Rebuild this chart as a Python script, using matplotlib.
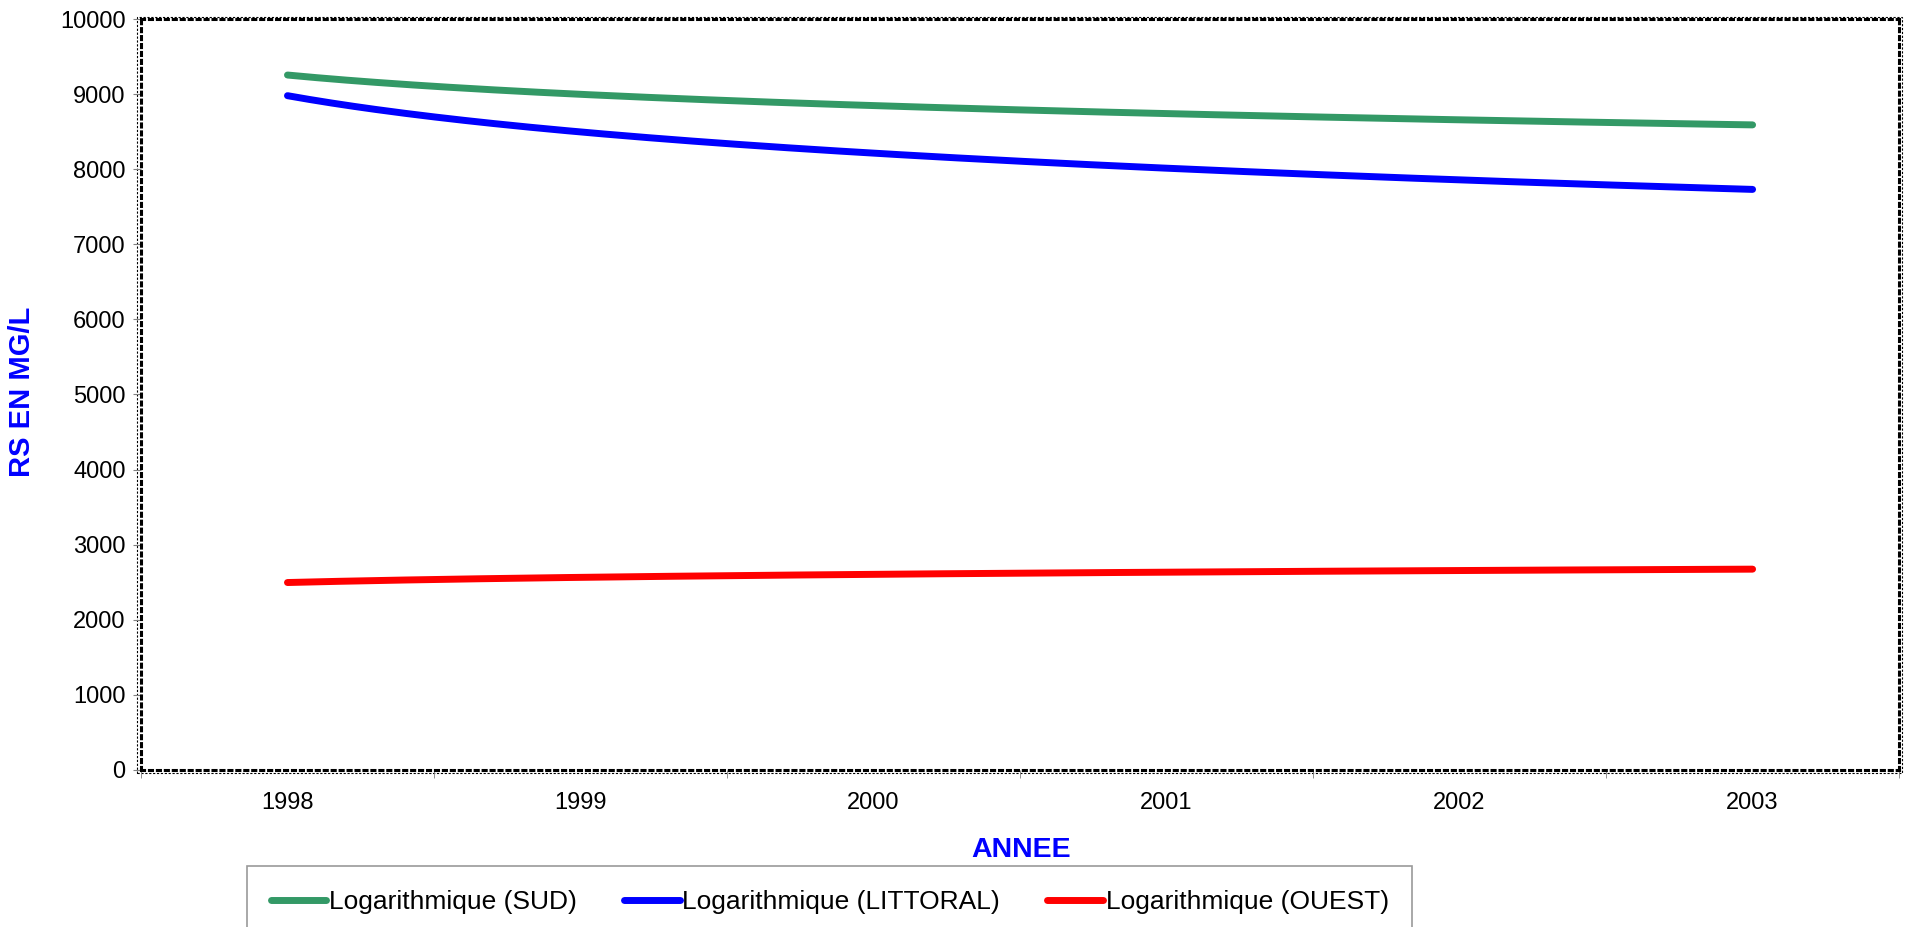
import numpy as np
import matplotlib.pyplot as plt
from matplotlib.patches import Rectangle

plt.rcParams['font.family'] = ['Liberation Sans', 'DejaVu Sans']

years = ['1998', '1999', '2000', '2001', '2002', '2003']
sud = [9254, 8997, 8847, 8740, 8658, 8590]
littoral = [8979, 8496, 8214, 8013, 7858, 7731]
ouest = [2496, 2565, 2605, 2634, 2656, 2674]

series = [
    ("Logarithmique (SUD)", sud, "#339966"),
    ("Logarithmique (LITTORAL)", littoral, "#0000FF"),
    ("Logarithmique (OUEST)", ouest, "#FF0000"),
]


def log_trend(values, n=200):
    """Logarithmic trendline through the points, like Excel draws it."""
    x = np.arange(1, len(values) + 1)
    a, b = np.polyfit(np.log(x), values, 1)
    xs = np.linspace(1, len(values), n)
    return xs - 1, a * np.log(xs) + b


def main():
    fig = plt.figure(figsize=(19.05, 9.27), dpi=100)
    ax = fig.add_axes([0.074, 0.1694, 0.9229, 0.8101])

    for label, values, color in series:
        xs, ys = log_trend(values)
        ax.plot(xs, ys, color=color, lw=5, solid_capstyle='round',
                label=label)

    ax.set_xlim(-0.5, len(years) - 0.5)
    ax.set_ylim(0, 10000)
    ax.set_yticks(np.arange(0, 10001, 1000))
    ax.set_xticks(np.arange(len(years)))
    ax.set_xticklabels(years)
    ax.set_xticks(np.arange(-0.5, len(years)), minor=True)
    ax.tick_params(axis='x', which='major', length=0, pad=16, labelsize=17)
    ax.tick_params(axis='x', which='minor', length=6, color='#808080')
    ax.tick_params(axis='y', length=6, color='#808080', labelsize=17, pad=5)

    # double dotted frame, like the Excel plot area border
    for sp in ax.spines.values():
        sp.set_linestyle((0, (1, 1.6)))
        sp.set_linewidth(2.2)
        sp.set_color('black')
    ax.add_patch(Rectangle((-0.0025, -0.004), 1.004, 1.007,
                           transform=ax.transAxes, fill=False,
                           ls=(0, (2, 1.5)), lw=0.8, ec='black',
                           clip_on=False))

    ax.set_xlabel("ANNEE", color='#0000FF', fontsize=20.5, fontweight='bold')
    ax.xaxis.set_label_coords(0.5006, -0.0895)
    ax.set_ylabel("RS EN MG/L", color='#0000FF', fontsize=21,
                  fontweight='bold')
    ax.yaxis.set_label_coords(-0.0597, 0.503)

    leg = fig.legend(loc='upper left',
                     bbox_to_anchor=(247 / 1905, 1 - 866 / 927),
                     bbox_transform=fig.transFigure, ncol=3, fontsize=19,
                     frameon=True, fancybox=False, borderpad=0.9,
                     borderaxespad=0, handlelength=2.1, handletextpad=0.1,
                     columnspacing=1.8)
    leg.get_frame().set_edgecolor('#808080')
    leg.get_frame().set_linewidth(1.2)

    fig.savefig("out.png", dpi=100)


if __name__ == "__main__":
    main()
